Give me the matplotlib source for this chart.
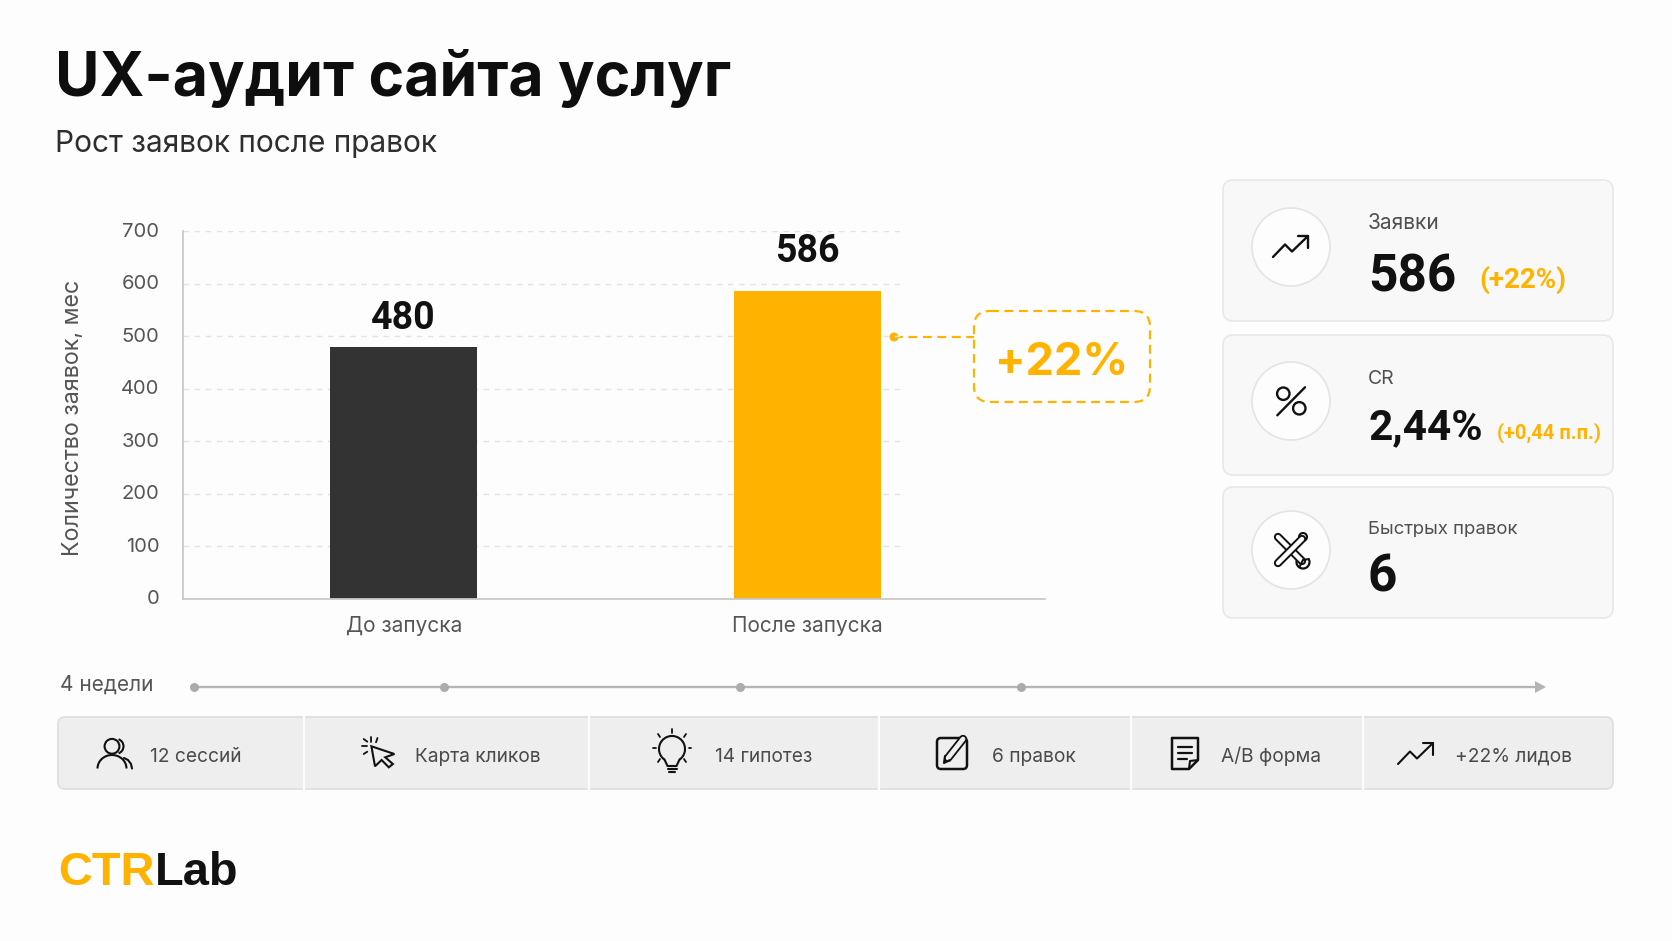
import matplotlib
matplotlib.use('Agg')
import matplotlib.pyplot as plt
from matplotlib.patches import FancyBboxPatch, Circle, Polygon, Arc
from matplotlib.transforms import ScaledTranslation

W, H = 1672, 941

AMBER = '#FFB300'
DARK = '#333333'

# chart data
categories = ['До запуска', 'После запуска']
requests = [480, 586]
bar_colors = [DARK, AMBER]
y_ticks = [0, 100, 200, 300, 400, 500, 600, 700]
growth_label = '+22%'

# kpi cards
kpi_titles = ['Заявки', 'CR', 'Быстрых правок']
kpi_values = ['586', '2,44%', '6']
kpi_deltas = ['(+22%)', '(+0,44 п.п.)', '']

# process strip
steps = ['12 сессий', 'Карта кликов', '14 гипотез', '6 правок', 'A/B форма', '+22% лидов']
week_marks = [194, 444, 740, 1021]

plt.rcParams['font.family'] = ['Inter', 'DejaVu Sans']
fig = plt.figure(figsize=(W / 100, H / 100), dpi=100, facecolor='#FDFDFD')

# full-canvas axes in pixels for everything around the chart
bg = fig.add_axes([0, 0, 1, 1])
bg.set_xlim(0, W)
bg.set_ylim(H, 0)
bg.axis('off')


def px_ax(x0, y0, x1, y1):
    return fig.add_axes([x0 / W, 1 - y1 / H, (x1 - x0) / W, (y1 - y0) / H])


def rbox(x0, y0, x1, y1, r, fc, ec, lw=1.2, ls='-'):
    p = FancyBboxPatch((x0, y0), x1 - x0, y1 - y0, boxstyle=f'round,pad=0,rounding_size={r}',
                       fc=fc, ec=ec, lw=lw, ls=ls)
    bg.add_patch(p)


def stroke(cx, cy, pts, lw=1.6, color='#111111'):
    bg.plot([cx + p[0] for p in pts], [cy + p[1] for p in pts], color=color, lw=lw,
            solid_capstyle='round', solid_joinstyle='round')


def icon_trend(cx, cy, lw=1.7):
    stroke(cx, cy, [(-18, 10), (-6, -2.5), (1, 4.5), (17, -11)], lw)
    stroke(cx, cy, [(7, -11), (17, -11), (17, 1)], lw)


def icon_percent(cx, cy):
    bg.add_patch(Circle((cx - 7.7, cy - 7.3), 6.2, fc='none', ec='#111111', lw=1.7))
    bg.add_patch(Circle((cx + 8.3, cy + 7.3), 6.2, fc='none', ec='#111111', lw=1.7))
    stroke(cx, cy, [(-13.7, 14.3), (14, -13.7)], 1.7)


def icon_tools(cx, cy):
    # outlined bars: a thick dark stroke with a thinner light one on top
    for pts in ([(-13, -13), (11, 11)], [(-13, 13), (11, -11)]):
        stroke(cx, cy, pts, 6.0)
        stroke(cx, cy, pts, 3.2, '#FDFDFD')
    bg.add_patch(Circle((cx + 12, cy - 13), 4, fc='#FDFDFD', ec='#111111', lw=1.5))
    bg.add_patch(Arc((cx + 12, cy + 12), 13, 13, theta1=-20, theta2=200, ec='#111111', lw=1.6))
    stroke(cx, cy, [(18, 9), (12, 10), (9, 16)], 1.5)


def icon_people(cx, cy):
    bg.add_patch(Circle((cx - 3, cy - 7.7), 7.4, fc='none', ec='#111111', lw=1.5))
    bg.add_patch(Arc((cx - 3, cy + 14.5), 29, 27, theta1=180, theta2=360, ec='#111111', lw=1.5))
    bg.add_patch(Arc((cx + 1, cy - 7.7), 15, 15, theta1=-70, theta2=70, ec='#111111', lw=1.5))
    stroke(cx, cy, [(9, 4), (13, 6), (16, 10), (17, 14.5)], 1.5)


def icon_cursor(cx, cy):
    bg.add_patch(Polygon([(cx + a, cy + b) for a, b in
                          [(-3.6, -7.7), (0, 12.3), (6.6, 6), (13.8, 13.3), (17.9, 10), (10.2, 3.3), (19.4, 0)]],
                         closed=True, fc='none', ec='#111111', lw=1.5))
    for ray in ([(-3.6, -16.7), (-3.6, -11.7)], [(-13, -7.7), (-8, -7.7)], [(-11.3, -15), (-7.7, -12.3)],
                [(2.5, -16), (1, -11.7)], [(-11.3, 0), (-7.7, -2.3)]):
        stroke(cx, cy, ray, 1.3)


def icon_bulb(cx, cy):
    bg.add_patch(Arc((cx, cy - 5), 26, 26, theta1=125, theta2=55, ec='#111111', lw=1.5))
    stroke(cx, cy, [(-7.5, 5.5), (-4.5, 12), (4.5, 12), (7.5, 5.5)], 1.5)
    stroke(cx, cy, [(-4.5, 15), (4.5, 15)], 1.5)
    stroke(cx, cy, [(-3, 18), (3, 18)], 1.5)
    for sign in (-1, 1):
        stroke(cx, cy, [(sign * 19, -6), (sign * 16.5, -6)], 1.3)
        stroke(cx, cy, [(sign * 14, -20), (sign * 12, -17)], 1.3)
        stroke(cx, cy, [(sign * 14, 8), (sign * 12, 5)], 1.3)
    stroke(cx, cy, [(0, -25), (0, -21)], 1.3)


def icon_note(cx, cy):
    rbox(cx - 15, cy - 16, cx + 15, cy + 15, 4, 'none', '#111111', lw=1.8)
    pen = [(-4, 4), (11, -15)]
    stroke(cx, cy, pen, 6.0)
    stroke(cx, cy, pen, 3.4, '#EEEEEE')
    stroke(cx, cy, [(-7, 2), (-8, 9), (-2, 6)], 1.5)


def icon_doc(cx, cy):
    stroke(cx, cy, [(-13, -16), (13, -16), (13, 6), (4, 15), (-13, 15), (-13, -16)], 1.8)
    stroke(cx, cy, [(4, 15), (5, 7), (13, 6)], 1.5)
    for dy, w in ((-7, 14), (-1, 14), (5, 9)):
        stroke(cx, cy, [(-7, dy), (-7 + w, dy)], 1.6)


# header
bg.text(55, 96, 'UX-аудит сайта услуг', fontsize=43.8, fontweight='bold', color='#0E0E0E', va='baseline')
bg.text(55, 152, 'Рост заявок после правок', fontsize=21.5, color='#2E2E2E', va='baseline')

# bar chart
ax = px_ax(183, 231, 1045, 598.5)
ax.patch.set_alpha(0)
xs = list(range(len(categories)))
ax.set_xlim(-0.5465, 1.588)
ax.set_ylim(0, 700)
ax.hlines(y_ticks[1:], -0.5465, 1.231, color='#E3E3E3', lw=1, linestyles=(0, (4, 4)), zorder=1)
ax.bar(xs, requests, width=0.364, color=bar_colors, zorder=2)
for s in ('top', 'right'):
    ax.spines[s].set_visible(False)
for s in ('left', 'bottom'):
    ax.spines[s].set_color('#C9C9C9')
    ax.spines[s].set_linewidth(1.3)
ax.set_yticks(y_ticks)
ax.set_xticks(xs, categories)
ax.tick_params(axis='y', length=0, pad=17, labelsize=14.5, labelcolor='#555555')
ax.tick_params(axis='x', length=0, pad=12.5, labelsize=15, labelcolor='#555555')
for lab in ax.get_yticklabels():
    lab.set_transform(lab.get_transform() + ScaledTranslation(0, 1 / 72, fig.dpi_scale_trans))
ax.set_ylabel('Количество заявок, мес', fontsize=16.8, color='#555555', va='center')
ax.yaxis.set_label_coords((73 - 183) / (1045 - 183), (598 - 417) / 367.5)
for x, v, gap in zip(xs, requests, [12.5, 21]):
    ax.annotate(str(v), (x, v), xytext=(0, gap), textcoords='offset points', ha='center', va='baseline',
                fontsize=27, fontweight='bold', family=['Roboto', 'DejaVu Sans'], color='#111111')

# growth callout
rbox(974, 311, 1150, 402, 16, 'none', AMBER, lw=1.6, ls=(0, (4, 2.5)))
bg.plot([894, 974], [337, 337], color=AMBER, lw=1.6, ls=(0, (4, 2.5)))
bg.add_patch(Circle((894, 337), 4.5, fc=AMBER, ec='none'))
bg.text(1062, 375, growth_label, fontsize=32.5, fontweight='bold', color=AMBER, ha='center', va='baseline')

# kpi cards
card_tops = [180, 335, 487]
card_bottoms = [321, 475, 618]
circle_ys = [247, 401, 550]
title_ys = [229, 384, 534]
title_sizes = [15, 14, 13.4]
value_ys = [292, 439, 592]
value_sizes = [37, 30.5, 37]
delta_xs = [1479, 1497, 0]
delta_sizes = [20, 14.5, 0]
delta_ys = [288, 438, 0]
card_icons = [icon_trend, icon_percent, icon_tools]
for i in range(3):
    rbox(1223, card_tops[i], 1613, card_bottoms[i], 10, '#F8F8F8', '#E8E8E8')
    bg.add_patch(Circle((1291, circle_ys[i]), 39, fc='#FDFDFD', ec='#E4E4E4', lw=1.2))
    card_icons[i](1291, circle_ys[i])
    bg.text(1368, title_ys[i], kpi_titles[i], fontsize=title_sizes[i], color='#505050', va='baseline')
    bg.text(1368, value_ys[i], kpi_values[i], fontsize=value_sizes[i], fontweight='bold',
            family=['Roboto', 'DejaVu Sans'], color='#111111', va='baseline')
    if kpi_deltas[i]:
        bg.text(delta_xs[i], delta_ys[i], kpi_deltas[i], fontsize=delta_sizes[i],
                fontweight='semibold', family=['Roboto', 'DejaVu Sans'], color=AMBER, va='baseline')

# timeline
bg.text(60, 691, '4 недели', fontsize=15, color='#555555', va='baseline')
bg.plot([194, 1538], [687, 687], color='#B5B5B5', lw=1.7)
bg.plot(week_marks, [687] * len(week_marks), 'o', color='#ABABAB', ms=6.5, mew=0)
bg.add_patch(Polygon([(1535, 681), (1546, 687), (1535, 693)], closed=True, fc='#B5B5B5', ec='none'))

# process strip
rbox(58, 717, 1613, 789, 7, '#EEEEEE', '#DEDEDE')
for x in [304, 589, 879, 1131, 1363]:
    bg.plot([x, x], [716, 790], color='#FDFDFD', lw=1.6)
step_text_xs = [150, 415, 715, 992, 1221, 1455]
step_icon_xs = [115, 375, 672, 952, 1185, 1416]
step_icons = [icon_people, icon_cursor, icon_bulb, icon_note, icon_doc, lambda cx, cy: icon_trend(cx, cy, 1.5)]
for i in range(6):
    step_icons[i](step_icon_xs[i], 754)
    bg.text(step_text_xs[i], 762, steps[i], fontsize=13.8, color='#4A4A4A', va='baseline')

# logo
ctr = bg.text(58, 885, 'CTR', fontsize=33.8, fontweight='bold', family=['Liberation Sans'], color=AMBER, va='baseline')
bg.annotate('Lab', xy=(1, 0), xycoords=ctr, va='bottom', fontsize=33.8, fontweight='bold',
            family=['Liberation Sans'], color='#111111')

fig.savefig('out.png', dpi=100, facecolor=fig.get_facecolor())
